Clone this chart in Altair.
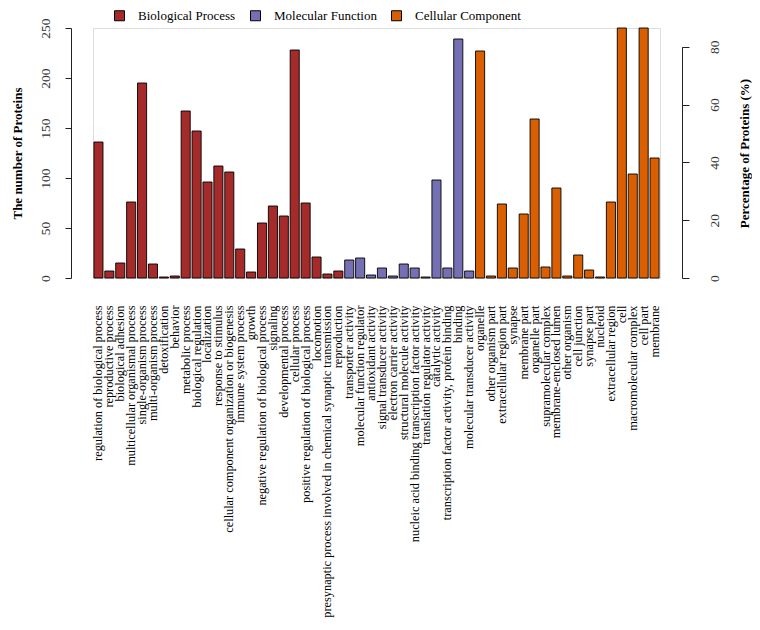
import altair as alt
import pandas as pd

bp_terms = ["regulation of biological process", "reproductive process", "biological adhesion",
            "multicellular organismal process", "single-organism process", "multi-organism process",
            "detoxification", "behavior", "metabolic process", "biological regulation", "localization",
            "response to stimulus", "cellular component organization or biogenesis", "immune system process",
            "growth", "negative regulation of biological process", "signaling", "developmental process",
            "cellular process", "positive regulation of biological process", "locomotion",
            "presynaptic process involved in chemical synaptic transmission", "reproduction"]
bp_counts = [136, 7, 15, 76, 195, 14, 1, 2, 167, 147, 96, 112, 106, 29, 6, 55, 72, 62, 228, 75, 21, 4, 7]

mf_terms = ["transporter activity", "molecular function regulator", "antioxidant activity",
            "signal transducer activity", "electron carrier activity", "structural molecule activity",
            "nucleic acid binding transcription factor activity", "translation regulator activity",
            "catalytic activity", "transcription factor activity, protein binding", "binding",
            "molecular transducer activity"]
mf_counts = [18, 20, 3, 10, 2, 14, 10, 1, 98, 10, 239, 7]

cc_terms = ["organelle", "other organism part", "extracellular region part", "synapse", "membrane part",
            "organelle part", "supramolecular complex", "membrane-enclosed lumen", "other organism",
            "cell junction", "synapse part", "nucleoid", "extracellular region", "cell",
            "macromolecular complex", "cell part", "membrane"]
cc_counts = [227, 2, 74, 10, 64, 159, 11, 90, 2, 23, 8, 1, 76, 250, 104, 250, 120]

groups = ["Biological Process", "Molecular Function", "Cellular Component"]
colors = ["#A52A2A", "#7570B3", "#D95F02"]
total_proteins = 289
count_ticks = [0, 50, 100, 150, 200, 250]
pct_ticks = [0, 20, 40, 60, 80]

terms = bp_terms + mf_terms + cc_terms
counts = bp_counts + mf_counts + cc_counts
grp = [groups[0]] * len(bp_terms) + [groups[1]] * len(mf_terms) + [groups[2]] * len(cc_terms)
df = pd.DataFrame({"term": terms, "count": counts, "group": grp})
df["pct"] = df["count"] / total_proteins * 100

FONT = "Liberation Serif"
W, H = 567, 250
count_max = 250
pct_top = H - pct_ticks[-1] / 100 * total_proteins * H / count_max

xenc = alt.X("term:N", sort=terms,
             scale=alt.Scale(paddingInner=0.1667, paddingOuter=0.0833),
             axis=alt.Axis(title=None, domain=False, ticks=False, labelAngle=270,
                           labelPadding=27, labelFontSize=12.3, labelFont=FONT, labelColor="black",
                           labelLimit=500, labelOverlap=False))

bars = alt.Chart(df).mark_bar(stroke="black", strokeWidth=0.9).encode(
    x=xenc,
    y=alt.Y("count:Q", scale=alt.Scale(domain=[0, count_max], nice=False),
            axis=alt.Axis(orient="left", offset=22, values=count_ticks, grid=False, tickSize=6,
                          tickColor="#222", domainColor="#222",
                          labelAngle=270, labelAlign="center", labelBaseline="alphabetic",
                          labelPadding=16, labelFontSize=13.5, labelFont=FONT, labelColor="#333",
                          title="The number of Proteins", titleAngle=270, titleFont=FONT,
                          titleFontSize=13, titleFontWeight="bold", titleColor="black",
                          titleX=-50, titleY=H / 2, titleAlign="center",
                          titleBaseline="alphabetic")),
    color=alt.Color("group:N", sort=groups,
                    scale=alt.Scale(domain=groups, range=colors),
                    legend=alt.Legend(title=None, orient="none", direction="horizontal",
                                      legendX=20, legendY=-19, symbolType="square",
                                      symbolSize=100, symbolStrokeColor="black",
                                      symbolStrokeWidth=1, symbolOpacity=1,
                                      labelFont=FONT, labelFontSize=13, labelColor="black",
                                      labelOffset=12, columnPadding=12)),
)

pct_layer = alt.Chart(df).mark_bar(opacity=0).encode(
    x=xenc,
    y=alt.Y("pct:Q", scale=alt.Scale(domain=[0, pct_ticks[-1]], range=[H, pct_top], nice=False),
            axis=alt.Axis(orient="right", offset=22, values=pct_ticks, grid=False, tickSize=7,
                          tickColor="#222", domainColor="#222",
                          labelAngle=270, labelAlign="center", labelBaseline="alphabetic",
                          labelPadding=29, labelFontSize=13.5, labelFont=FONT, labelColor="#333",
                          title="Percentage of Proteins (%)", titleAngle=270, titleFont=FONT,
                          titleFontSize=13, titleFontWeight="bold", titleColor="black",
                          titleX=66, titleY=H / 2, titleAlign="center",
                          titleBaseline="alphabetic")),
)

chart = alt.layer(bars, pct_layer).resolve_scale(y="independent").properties(
    width=W, height=H,
    autosize=alt.AutoSizeParams(type="none"),
    padding={"left": 85, "top": 20, "right": 92, "bottom": 345},
).configure_view(stroke="transparent").configure(background="white")

chart.save("out.html", embed_options={"renderer": "svg", "actions": False})
